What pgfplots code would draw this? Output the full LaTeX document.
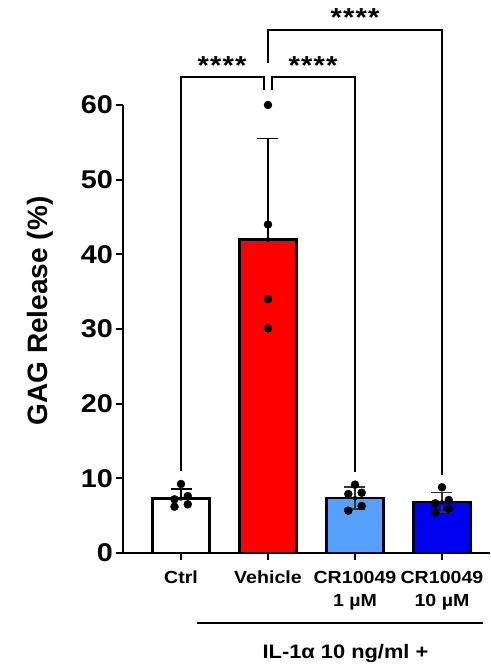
\documentclass[border=0pt]{standalone}
\usepackage{fontspec}
\setmainfont[FakeStretch=1.12]{Liberation Sans}
\newfontfamily\plainsans{Liberation Sans}
\usepackage{pgfplots}
\pgfplotsset{compat=1.18}
\definecolor{lblue}{RGB}{85,160,250}
\definecolor{dblue}{RGB}{0,0,240}
\definecolor{bred}{RGB}{255,0,0}
\newcommand{\stars}{*\hspace{1.2pt}*\hspace{1.2pt}*\hspace{1.2pt}*}
\begin{document}
\begin{tikzpicture}[x=1pt,y=1pt]
\path[use as bounding box] (0,0) rectangle (490,666);
\begin{axis}[
  at={(123pt,113pt)}, anchor=south west,
  scale only axis, width=367pt, height=448pt,
  xmin=-0.6667, xmax=3.552, ymin=0, ymax=60,
  axis lines=left, axis line style={-, line width=2pt},
  clip=false,
  ytick={0,10,20,30,40,50,60},
  xtick={0,1,2,3},
  xticklabels={Ctrl, Vehicle, {CR10049\\1 µM}, {CR10049\\10 µM}},
  tick align=outside, major tick length=7pt,
  tick style={line width=2pt, black},
  /pgf/number format/assume math mode=true,
  yticklabel style={font=\fontsize{25.7}{26}\selectfont\bfseries, inner sep=0pt, xshift=-3pt},
  xticklabel style={font=\fontsize{17.5}{23.5}\selectfont\bfseries, align=center, inner sep=0pt, yshift=-11pt},
]
% bars
\addplot[ybar, bar width=57pt, bar shift=0pt, fill=white, draw=black, line width=2.3pt] coordinates {(0,7.3)};
\addplot[ybar, bar width=57pt, bar shift=0pt, fill=bred, draw=black, line width=2.3pt] coordinates {(1,42.0)};
\addplot[ybar, bar width=57pt, bar shift=0pt, fill=lblue, draw=black!85!blue, line width=2.3pt] coordinates {(2,7.35)};
\addplot[ybar, bar width=57pt, bar shift=0pt, fill=dblue, draw=black!85!blue, line width=2.3pt] coordinates {(3,6.79)};
% error bars (mean +/- SD)
\addplot[black, only marks, mark=none, error bars/.cd, y dir=plus, y explicit,
  error bar style={line width=1.6pt, black},
  error mark options={rotate=90, mark size=10.5pt, line width=1.6pt, black}]
  coordinates {(0,7.3) +- (0,1.3) (1,42.0) +- (0,13.5)};
\addplot[black, only marks, mark=none, error bars/.cd, y dir=both, y explicit,
  error bar style={line width=1.6pt, black!80},
  error mark options={rotate=90, mark size=10.5pt, line width=1.6pt, black!80}]
  coordinates {(2,7.35) +- (0,1.45) (3,6.79) +- (0,1.29)};
% individual points
\addplot[only marks, mark=*, mark size=4pt, black] coordinates {
  (0,9.24) (-0.075,7.19) (0.078,7.63) (-0.075,6.2) (0.078,6.52)};
\addplot[only marks, mark=*, mark size=4pt, black] coordinates {
  (1,60.0) (1,44.0) (1,34.0) (1,30.1)};
\addplot[only marks, mark=*, mark size=4pt, black] coordinates {
  (2,9.15) (1.923,7.9) (2.077,8.07) (2.077,6.29) (1.923,5.66)};
\addplot[only marks, mark=*, mark size=4pt, black] coordinates {
  (3,8.8) (2.923,6.65) (3.078,7.1) (3.078,5.93) (2.923,5.45)};
% significance brackets
\draw[line width=2pt] (axis cs:0,11.0) -- (axis cs:0,63.7) -- (axis cs:0.954,63.7) -- (axis cs:0.954,62.0);
\draw[line width=2pt] (axis cs:1.046,62.0) -- (axis cs:1.046,63.7) -- (axis cs:2,63.7) -- (axis cs:2,10.8);
\draw[line width=2pt] (axis cs:1,65.6) -- (axis cs:1,70.1) -- (axis cs:3,70.1) -- (axis cs:3,10.4);
\node[anchor=north, inner sep=0pt, font=\fontsize{26}{26}\selectfont\bfseries] at (axis cs:0.471,66.5) {\stars};
\node[anchor=north, inner sep=0pt, font=\fontsize{26}{26}\selectfont\bfseries] at (axis cs:1.517,66.5) {\stars};
\node[anchor=north, inner sep=0pt, font=\fontsize{26}{26}\selectfont\bfseries] at (axis cs:2,73.0) {\stars};
\end{axis}
\node[rotate=90, font=\plainsans\fontsize{28}{28}\selectfont\bfseries] at (40.7,355) {GAG Release (\%)};
\draw[line width=2pt] (197,43) -- (483,43);
\node[anchor=base, font=\fontsize{19.5}{20}\selectfont\bfseries] at (345.5,8) {IL-1α 10 ng/ml +};
\end{tikzpicture}
\end{document}
